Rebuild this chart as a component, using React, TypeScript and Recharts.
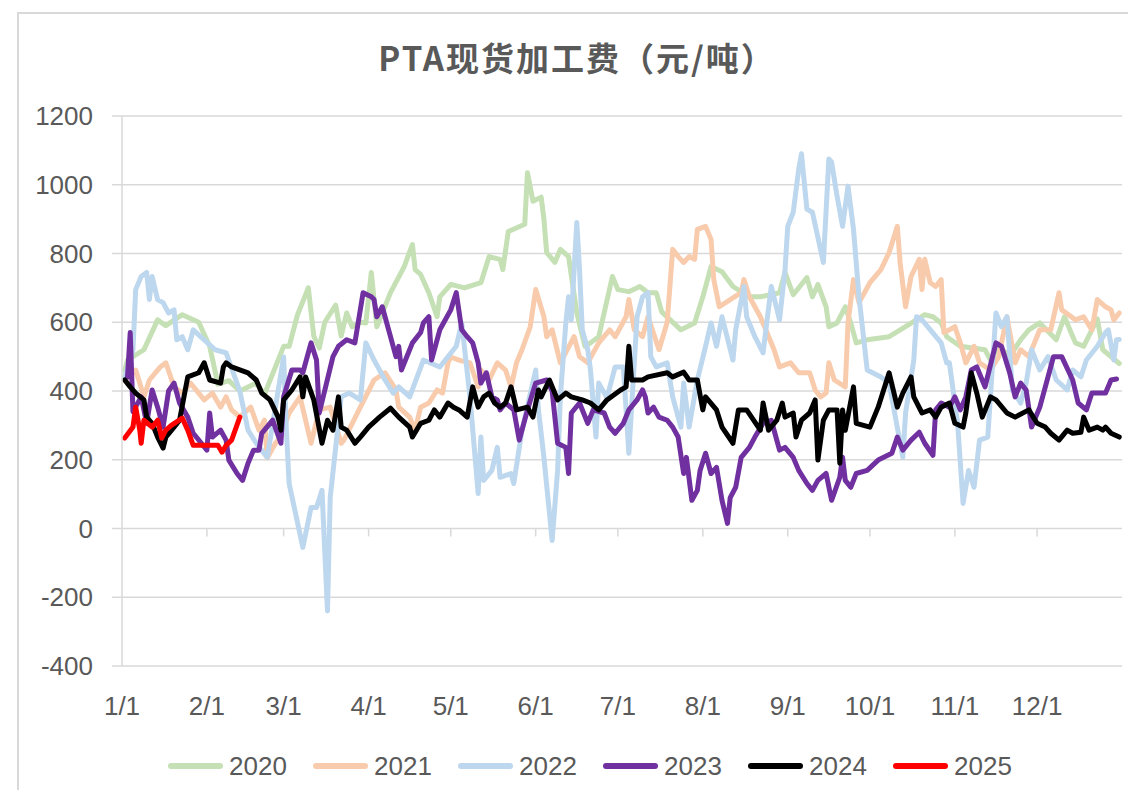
import React from "react";
import {
  LineChart,
  Line,
  XAxis,
  YAxis,
  CartesianGrid,
  ReferenceLine,
  Legend,
} from "recharts";

// day of year -> first of month
const monthStarts = [0, 31, 59, 90, 120, 151, 181, 212, 243, 273, 304, 334];
const monthLabels = ["1/1", "2/1", "3/1", "4/1", "5/1", "6/1", "7/1", "8/1", "9/1", "10/1", "11/1", "12/1"];
const yTicks = [-400, -200, 0, 200, 400, 600, 800, 1000, 1200];

// [day of year, 元/吨]
const y2020: [number, number][] = [
  [1, 460], [2, 490], [8, 520], [13, 607], [16, 590], [22, 622], [28, 600], [32, 530], [35, 420],
  [39, 430], [43, 400], [49, 423], [52, 390], [56, 470], [59, 530], [61, 530], [64, 620], [68, 700],
  [70, 560], [72, 525], [74, 600], [78, 650], [80, 560], [82, 627], [84, 587], [87, 600], [89, 598],
  [91, 745], [93, 587], [98, 686], [103, 762], [106, 826], [107, 753], [109, 739], [112, 686],
  [115, 616], [116, 674], [120, 710], [125, 700], [131, 715], [134, 791], [138, 783], [139, 753],
  [141, 864], [147, 885], [148, 1035], [150, 952], [153, 964], [154, 900], [155, 803], [158, 774],
  [160, 812], [163, 791], [166, 627], [169, 530], [171, 540], [174, 558], [179, 733], [181, 695],
  [185, 689], [189, 704], [192, 686], [195, 686], [197, 630], [204, 578], [209, 598], [212, 674],
  [215, 762], [219, 747], [223, 704], [229, 674], [233, 674], [240, 686], [242, 745], [245, 680],
  [250, 730], [252, 674], [254, 710], [257, 645], [258, 587], [261, 598], [264, 645], [266, 598],
  [268, 540], [272, 549], [280, 558], [286, 587], [293, 622], [296, 616], [299, 598], [301, 558],
  [306, 530], [315, 520], [317, 490], [320, 530], [324, 500], [328, 549], [331, 578], [335, 598],
  [341, 549], [344, 616], [348, 540], [351, 530], [356, 610], [358, 520], [361, 500], [364, 480],
];

const y2021: [number, number][] = [
  [1, 430], [5, 461], [8, 383], [10, 432], [14, 470], [16, 482], [19, 412], [22, 394], [25, 423],
  [28, 394], [30, 374], [33, 394], [36, 353], [38, 383], [40, 345], [43, 324], [47, 353], [50, 286],
  [52, 315], [53, 205], [56, 248], [58, 266], [61, 336], [65, 383], [69, 248], [72, 345], [76, 353],
  [80, 248], [81, 257], [87, 353], [92, 432], [96, 453], [100, 403], [101, 353], [105, 324],
  [107, 286], [109, 353], [112, 365], [115, 403], [117, 394], [119, 482], [120, 499], [123, 490],
  [127, 482], [130, 412], [131, 461], [134, 432], [137, 482], [140, 461], [142, 412], [144, 482],
  [146, 520], [149, 587], [151, 695], [154, 616], [155, 558], [157, 578], [160, 482], [165, 558],
  [167, 500], [170, 482], [174, 540], [178, 578], [180, 558], [184, 616], [185, 666], [187, 578],
  [190, 558], [192, 616], [196, 520], [199, 600], [201, 812], [203, 791], [205, 774], [207, 791],
  [209, 783], [210, 870], [213, 879], [215, 841], [216, 724], [218, 645], [222, 666], [226, 686],
  [227, 724], [229, 674], [233, 616], [235, 578], [238, 520], [240, 470], [244, 482], [247, 453],
  [251, 453], [253, 403], [255, 383], [257, 394], [258, 482], [260, 432], [264, 412], [265, 600],
  [267, 724], [269, 657], [273, 715], [277, 753], [280, 803], [283, 879], [284, 774], [286, 645],
  [288, 733], [291, 783], [292, 695], [293, 783], [295, 715], [297, 704], [299, 724], [300, 570],
  [302, 578], [304, 587], [306, 540], [308, 482], [311, 530], [313, 482], [317, 461], [320, 500],
  [323, 616], [326, 482], [328, 520], [331, 500], [335, 578], [339, 578], [342, 686], [343, 636],
  [348, 607], [351, 616], [354, 578], [356, 666], [359, 645], [361, 636], [362, 607], [364, 627],
];

const y2022: [number, number][] = [
  [1, 440], [4, 520], [5, 695], [7, 733], [9, 745], [10, 666], [11, 733], [13, 666], [15, 657],
  [17, 627], [19, 636], [20, 549], [22, 558], [24, 520], [26, 578], [30, 549], [34, 520], [38, 511],
  [43, 400], [46, 286], [49, 248], [53, 207], [59, 499], [60, 286], [61, 131], [66, -55], [69, 61],
  [71, 61], [73, 111], [75, -240], [76, 90], [80, 383], [83, 394], [87, 374], [89, 540], [92, 490],
  [96, 432], [99, 394], [101, 412], [105, 383], [110, 490], [116, 470], [122, 530], [124, 598],
  [127, 383], [130, 102], [131, 266], [132, 140], [135, 169], [137, 236], [138, 149], [142, 160],
  [143, 131], [146, 286], [151, 461], [152, 345], [154, 207], [157, -35], [159, 169], [160, 383],
  [162, 598], [163, 674], [164, 607], [166, 890], [167, 753], [168, 578], [170, 520], [171, 461],
  [173, 266], [174, 423], [177, 380], [180, 470], [183, 470], [185, 219], [188, 616], [190, 674],
  [192, 686], [193, 500], [195, 470], [199, 482], [201, 383], [204, 295], [205, 423], [207, 295],
  [210, 432], [213, 530], [215, 598], [217, 530], [219, 616], [223, 490], [224, 578], [227, 704],
  [228, 616], [231, 558], [234, 511], [235, 578], [237, 704], [240, 607], [242, 753], [243, 879],
  [245, 920], [247, 1045], [248, 1090], [250, 929], [252, 920], [256, 774], [258, 1075], [259, 1066],
  [261, 967], [263, 879], [265, 996], [267, 870], [269, 674], [272, 461], [277, 441], [280, 423],
  [285, 207], [286, 336], [289, 490], [290, 616], [292, 607], [299, 540], [301, 482], [302, 482],
  [305, 306], [307, 73], [309, 169], [311, 120], [313, 257], [316, 266], [319, 627], [321, 587],
  [323, 616], [325, 403], [328, 365], [330, 423], [332, 520], [335, 461], [338, 500], [341, 432],
  [345, 403], [347, 461], [350, 441], [352, 490], [356, 530], [359, 570], [360, 578], [362, 490],
  [363, 549], [364, 550],
];

const y2023: [number, number][] = [
  [2, 440], [3, 570], [4, 340], [7, 383], [9, 306], [11, 403], [13, 353], [15, 295], [17, 400],
  [19, 423], [21, 365], [24, 324], [26, 277], [31, 228], [32, 336], [33, 266], [36, 286], [38, 257],
  [39, 199], [42, 160], [44, 140], [46, 190], [48, 228], [50, 228], [51, 277], [55, 315], [58, 248],
  [59, 383], [62, 461], [65, 461], [66, 453], [69, 540], [71, 490], [72, 336], [77, 500], [79, 530],
  [82, 549], [85, 540], [88, 686], [91, 674], [92, 666], [93, 616], [95, 645], [98, 558], [100, 500],
  [101, 530], [102, 461], [106, 540], [109, 570], [110, 598], [112, 616], [113, 490], [116, 578],
  [120, 636], [122, 686], [124, 578], [126, 558], [128, 540], [130, 482], [131, 423], [133, 453],
  [135, 383], [137, 374], [138, 345], [140, 365], [143, 345], [145, 257], [148, 345], [151, 423],
  [155, 432], [157, 400], [159, 248], [162, 236], [163, 160], [164, 336], [167, 365], [170, 306],
  [172, 345], [176, 336], [178, 295], [180, 277], [183, 306], [185, 345], [188, 374], [190, 403],
  [191, 383], [192, 336], [194, 353], [196, 324], [199, 315], [201, 295], [203, 266], [205, 160],
  [206, 207], [208, 82], [210, 111], [211, 169], [213, 219], [215, 160], [217, 178], [219, 82],
  [221, 15], [222, 90], [224, 120], [226, 207], [229, 236], [231, 266], [234, 306], [237, 315],
  [240, 228], [242, 236], [245, 207], [247, 169], [250, 131], [252, 111], [254, 140], [257, 160],
  [259, 82], [262, 149], [263, 207], [264, 140], [266, 120], [268, 160], [272, 169], [276, 199],
  [281, 219], [283, 266], [285, 228], [288, 257], [291, 280], [293, 248], [296, 213], [297, 345],
  [299, 365], [302, 353], [304, 383], [306, 345], [308, 383], [310, 461], [312, 470], [315, 412],
  [319, 540], [321, 530], [324, 453], [326, 383], [328, 423], [330, 403], [332, 295], [335, 353],
  [338, 441], [340, 500], [343, 500], [347, 432], [349, 365], [352, 345], [354, 394], [359, 394],
  [361, 432], [363, 435],
];

const y2024: [number, number][] = [
  [1, 432], [3, 412], [5, 394], [8, 374], [9, 324], [11, 306], [13, 266], [15, 234], [16, 266],
  [19, 295], [21, 315], [24, 441], [28, 453], [30, 482], [32, 432], [36, 423], [37, 470], [38, 482],
  [40, 470], [46, 453], [49, 432], [51, 394], [54, 374], [57, 324], [58, 286], [59, 374], [62, 403],
  [65, 441], [66, 383], [67, 441], [70, 374], [73, 248], [75, 315], [77, 286], [79, 383], [80, 295],
  [82, 286], [85, 248], [87, 266], [90, 295], [94, 324], [98, 350], [101, 324], [105, 295],
  [106, 266], [109, 306], [112, 315], [114, 345], [116, 324], [119, 365], [121, 353], [123, 345],
  [126, 324], [128, 412], [130, 353], [132, 383], [134, 394], [136, 365], [138, 353], [140, 365],
  [142, 412], [144, 345], [148, 353], [150, 324], [152, 403], [153, 383], [156, 432], [159, 374],
  [162, 394], [164, 383], [168, 374], [171, 365], [174, 345], [177, 374], [182, 403], [184, 412],
  [185, 530], [186, 432], [190, 432], [192, 441], [199, 453], [201, 441], [205, 455], [207, 432],
  [210, 432], [212, 345], [213, 383], [217, 345], [219, 295], [223, 248], [225, 345], [228, 345],
  [233, 286], [234, 365], [236, 286], [239, 315], [241, 365], [242, 324], [245, 336], [246, 266],
  [248, 315], [251, 336], [253, 374], [254, 199], [256, 315], [258, 345], [261, 345], [262, 190],
  [263, 345], [264, 286], [267, 412], [268, 306], [273, 295], [276, 353], [280, 453], [283, 353],
  [285, 394], [288, 441], [289, 383], [292, 336], [295, 345], [297, 324], [299, 353], [302, 365],
  [304, 306], [307, 295], [308, 336], [310, 453], [312, 394], [314, 324], [317, 383], [319, 374],
  [323, 336], [326, 324], [331, 345], [334, 306], [337, 295], [339, 277], [342, 257], [345, 286],
  [347, 277], [350, 280], [351, 324], [353, 286], [356, 295], [358, 286], [359, 295], [361, 277],
  [364, 266],
];

const y2025: [number, number][] = [
  [1, 263], [4, 295], [5, 353], [6.5, 286], [7, 248], [8, 315], [11, 295], [13, 315], [14.5, 263],
  [16, 286], [18, 300], [22, 321], [24, 286], [26, 242], [35, 242], [36.5, 222], [38, 242],
  [40, 257], [43, 324],
];

const series = [
  { name: "2020", color: "#C5E0B4", pts: y2020 },
  { name: "2021", color: "#F8CBAD", pts: y2021 },
  { name: "2022", color: "#BDD7EE", pts: y2022 },
  { name: "2023", color: "#7030A0", pts: y2023 },
  { name: "2024", color: "#000000", pts: y2024 },
  { name: "2025", color: "#FF0000", pts: y2025 },
];

const TEXT = "#595959";
const GRID = "#d9d9d9";
const FONT = '"Liberation Sans", Arial, sans-serif';

const LegendRow = () => (
  <div
    style={{
      display: "flex",
      alignItems: "center",
      height: 40,
      paddingLeft: 160,
      fontFamily: FONT,
      fontSize: 26,
      color: TEXT,
    }}
  >
    {series.map((s) => (
      <div key={s.name} style={{ display: "flex", alignItems: "center", width: 145 }}>
        <span
          style={{
            display: "inline-block",
            width: 55,
            height: 6,
            borderRadius: 3,
            background: s.color,
            marginRight: 6,
          }}
        />
        <span>{s.name}</span>
      </div>
    ))}
  </div>
);

export default function App() {
  return (
    <div style={{ position: "relative", width: 1120, height: 782, overflow: "hidden" }}>
      {/* chart frame, right and bottom edges fall outside the picture */}
      <div
        style={{
          position: "absolute",
          left: 9,
          top: 4,
          width: 1200,
          height: 900,
          border: `2px solid ${GRID}`,
        }}
      />
      <div
        style={{
          position: "absolute",
          left: 569,
          top: 25,
          transform: "translateX(-50%)",
          whiteSpace: "nowrap",
          fontFamily: '"Noto Sans CJK SC", sans-serif',
          fontWeight: "bold",
          fontSize: 33,
          letterSpacing: 2,
          color: TEXT,
        }}
      >
        PTA现货加工费（元/吨）
      </div>
      <LineChart
        width={1120}
        height={782}
        margin={{ top: 108, right: 6, left: 0, bottom: 4 }}
        style={{ position: "absolute", left: 0, top: 0 }}
      >
        <CartesianGrid vertical={false} stroke={GRID} strokeWidth={1.5} />
        <XAxis
          dataKey="d"
          type="number"
          domain={[0, 365]}
          ticks={monthStarts}
          tickFormatter={(v: number) => monthLabels[monthStarts.indexOf(v)] ?? ""}
          allowDataOverflow
          axisLine={false}
          tickLine={false}
          tickSize={0}
          tickMargin={31}
          height={80}
          interval={0}
          tick={{ fill: TEXT, fontSize: 26, fontFamily: FONT }}
        />
        <YAxis
          type="number"
          domain={[-400, 1200]}
          ticks={yTicks}
          width={114}
          axisLine={{ stroke: GRID, strokeWidth: 1.5 }}
          tickLine={{ stroke: GRID, strokeWidth: 1.5 }}
          tickSize={10}
          tickMargin={19}
          interval={0}
          tick={{ fill: TEXT, fontSize: 26, fontFamily: FONT }}
        />
        {monthStarts.slice(1).map((m) => (
          <ReferenceLine
            key={m}
            segment={[
              { x: m, y: 0 },
              { x: m, y: -23 },
            ]}
            stroke={GRID}
            strokeWidth={1.5}
          />
        ))}
        {series.map((s) => (
          <Line
            key={s.name}
            name={s.name}
            data={s.pts.map(([d, v]) => ({ d, v }))}
            dataKey="v"
            type="linear"
            stroke={s.color}
            strokeWidth={5}
            strokeLinejoin="round"
            strokeLinecap="round"
            dot={false}
            activeDot={false}
            isAnimationActive={false}
          />
        ))}
        <Legend
          verticalAlign="bottom"
          wrapperStyle={{ left: 0, bottom: 4, width: 1120 }}
          content={() => <LegendRow />}
        />
      </LineChart>
    </div>
  );
}
